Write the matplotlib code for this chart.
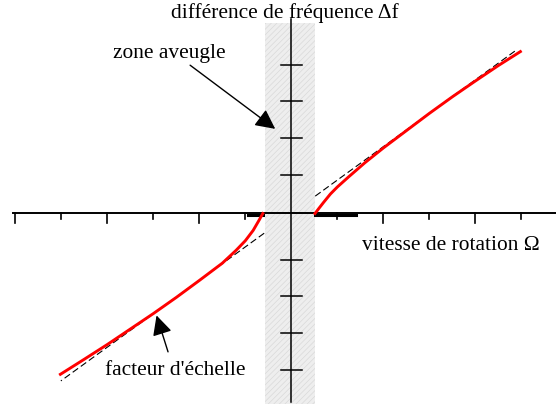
"""Lock-in (zone aveugle) response of a ring laser gyro."""
import matplotlib
matplotlib.use("Agg")
import matplotlib.pyplot as plt

plt.rcParams["font.family"] = ["Liberation Serif", "DejaVu Serif"]
plt.rcParams["hatch.linewidth"] = 0.5

# measured response, right branch (omega > 0)
omega_pos = [0.515, 0.60, 0.70, 0.85, 1.00, 1.25, 1.60, 2.00, 2.50, 3.00, 3.50, 4.00, 4.50, 4.98]
df_pos = [0.00, 0.14, 0.30, 0.53, 0.72, 1.00, 1.38, 1.78, 2.25, 2.72, 3.17, 3.60, 4.02, 4.40]

# measured response, left branch (omega < 0)
omega_neg = [-0.62, -0.70, -0.83, -1.00, -1.20, -1.50, -2.00, -2.50, -3.00, -3.50, -4.00, -4.50, -5.02]
df_neg = [0.00, -0.18, -0.46, -0.74, -1.00, -1.35, -1.82, -2.28, -2.72, -3.14, -3.56, -3.96, -4.37]

# ideal scale factor (dashed)
ideal_omega_pos = [0.52, 4.88]
ideal_omega_neg = [-0.59, -5.01]
scale_factor = 0.908

# blind zone and dead segments on the omega axis
blind_zone = (-0.57, 0.515)
dead_left = (-0.94, -0.62)
dead_right = (0.515, 1.41)

x_ticks_long = [-6, -4, -2, 2, 4]
x_ticks_short = [-5, -3, -1, 1, 3, 5]
y_ticks = [4.04, 3.06, 2.05, 1.05, -1.26, -2.24, -3.25, -4.25]

fig = plt.figure(figsize=(5.56, 4.06), dpi=100)
ax = fig.add_axes([0, 0, 1, 1])
ax.set_xlim(-6.333, 5.754)
ax.set_ylim(-5.204, 5.829)
ax.axis("off")

# blind zone band
ax.fill_betweenx([-5.18, 5.18], blind_zone[0], blind_zone[1],
                 facecolor="#eeeeee", edgecolor="#d9d9d9", hatch="//////",
                 linewidth=0, zorder=0)

# axes
ax.plot([-6.04, 5.76], [0, 0], color="black", lw=1.4, zorder=2)
ax.plot([0, 0], [-5.12, 5.29], color="black", lw=1.1, zorder=2)
for t in x_ticks_long:
    ax.plot([t, t], [0, -0.245], color="black", lw=1.2, zorder=2)
for t in x_ticks_short:
    ax.plot([t, t], [0, -0.136], color="black", lw=1.2, zorder=2)
for t in y_ticks:
    ax.plot([-0.224, 0.233], [t, t], color="black", lw=1.1, zorder=2)

# dead segments
for seg in (dead_left, dead_right):
    ax.plot(seg, [-0.03, -0.03], color="black", lw=2.2, zorder=2)

# ideal lines
for xs in (ideal_omega_pos, ideal_omega_neg):
    ax.plot(xs, [scale_factor * v for v in xs], color="black", lw=0.8,
            linestyle=(0, (6, 3)), zorder=3)

# measured curves
ax.plot(omega_pos, df_pos, color="#ff0000", lw=2.1, zorder=4,
        solid_joinstyle="round")
ax.plot(omega_neg, df_neg, color="#ff0000", lw=2.1, zorder=4,
        solid_joinstyle="round")

fs = 15.4
ax.text(-2.62, 5.34, "différence de fréquence Δf", fontsize=fs, va="baseline")
ax.text(-3.88, 4.25, "zone aveugle", fontsize=fs, va="baseline")
ax.text(1.54, -0.96, "vitesse de rotation Ω", fontsize=fs, va="baseline")
ax.text(-4.05, -4.36, "facteur d'échelle", fontsize=fs, va="baseline")

arrow = dict(arrowstyle="-|>,head_length=0.6,head_width=0.3",
             mutation_scale=20, color="black", lw=1.0,
             shrinkA=0, shrinkB=0)
ax.annotate("", xy=(-0.35, 2.30), xytext=(-2.20, 4.03), arrowprops=arrow, zorder=5)
ax.annotate("", xy=(-2.93, -2.77), xytext=(-2.68, -3.76), arrowprops=arrow, zorder=5)

fig.savefig("out.png", dpi=100)
